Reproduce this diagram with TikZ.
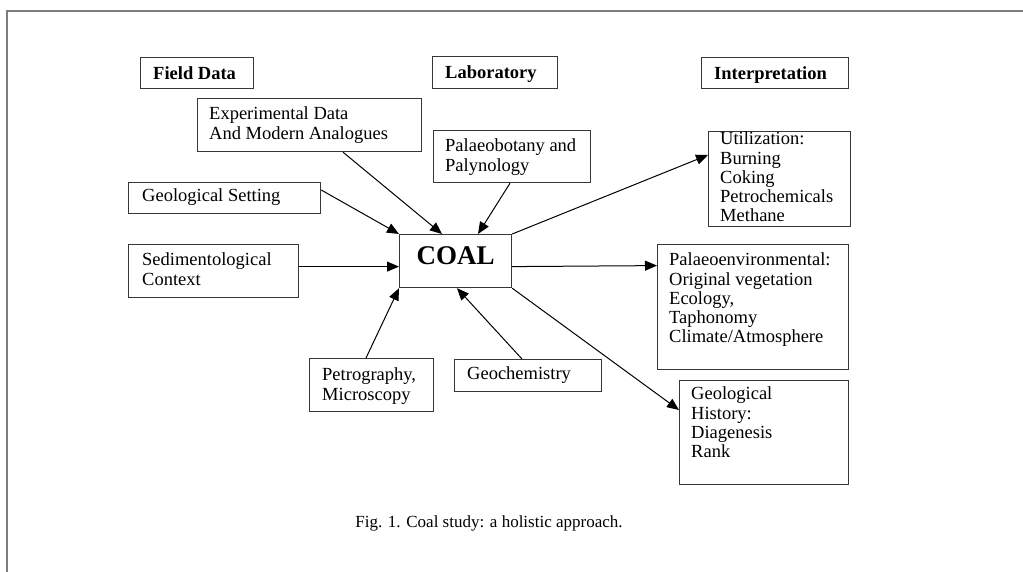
\documentclass[tikz,border=0pt]{standalone}
\usepackage{fontspec}
\setmainfont{Liberation Serif}
\usetikzlibrary{arrows.meta, positioning}
\definecolor{boxline}{RGB}{55,55,55}
\definecolor{frameline}{RGB}{125,125,125}
\tikzset{
  panel/.style={rectangle, draw=boxline, line width=1.2pt, anchor=north west,
    inner sep=0pt},
  hdrtext/.style={anchor=base west, inner sep=0pt,
    font=\fontsize{18.5}{19.3}\selectfont\bfseries},
  bodytext/.style={anchor=north west, inner sep=0pt, align=left,
    font=\fontsize{18.5}{19.3}\selectfont},
  arrow/.style={-{Triangle[length=12pt, width=10pt]}, line width=1pt, color=black}
}

\begin{document}
\begin{tikzpicture}[x=1pt, y=-1pt]
  \useasboundingbox (0,0) rectangle (1023,572);

  % Page frame
  \draw[frameline, line width=1.5pt] (7,572) -- (7,11) -- (1023,11);

  % Column headers
  \node[panel, minimum width=113pt, minimum height=31pt] (field) at (140,57) {};
  \node[hdrtext] (fieldtxt) at ([shift={(13pt,-6pt)}]field.west) {Field Data};
  \node[panel, minimum width=125pt, minimum height=32pt] (lab) at (432,56) {};
  \node[hdrtext] (labtxt) at ([shift={(13pt,-6pt)}]lab.west) {Laboratory};
  \node[panel, minimum width=147pt, minimum height=31pt] (interp) at (701,57) {};
  \node[hdrtext] (interptxt) at ([shift={(13pt,-6pt)}]interp.west) {Interpretation};

  % Centre
  \node[panel, minimum width=112pt, minimum height=53pt, text depth=12pt,
    font=\fontsize{27}{30}\selectfont\bfseries] (coal) at (399,234) {COAL};

  % Inputs
  \node[panel, minimum width=224pt, minimum height=53pt] (exp) at (197,98) {};
  \node[bodytext] (exptxt) at ([shift={(12pt,-8.7pt)}]exp.north west)
    {Experimental Data\\And Modern Analogues};
  \node[panel, minimum width=157pt, minimum height=52pt] (pbot) at (433,130) {};
  \node[bodytext] (pbottxt) at ([shift={(12pt,-8.7pt)}]pbot.north west)
    {Palaeobotany and\\Palynology};
  \node[panel, minimum width=192pt, minimum height=31pt] (geoset) at (128,182) {};
  \node[bodytext] (geosettxt) at ([shift={(14pt,-6.7pt)}]geoset.north west)
    {Geological Setting};
  \node[panel, minimum width=170pt, minimum height=53pt] (sed) at (128,244) {};
  \node[bodytext] (sedtxt) at ([shift={(14pt,-8.7pt)}]sed.north west)
    {Sedimentological\\Context};
  \node[panel, minimum width=124pt, minimum height=53pt] (petro) at (309,358) {};
  \node[bodytext] (petrotxt) at ([shift={(13pt,-9.7pt)}]petro.north west)
    {Petrography,\\Microscopy};
  \node[panel, minimum width=147pt, minimum height=32pt] (geochem) at (454,359) {};
  \node[bodytext] (geochemtxt) at ([shift={(13pt,-7.7pt)}]geochem.north west)
    {Geochemistry};

  % Outputs
  \node[panel, minimum width=142pt, minimum height=95pt] (util) at (708,131) {};
  \node[bodytext] (utiltxt) at ([shift={(12pt,-0.7pt)}]util.north west)
    {Utilization:\\Burning\\Coking\\Petrochemicals\\Methane};
  \node[panel, minimum width=191pt, minimum height=125pt] (palenv) at (657,244) {};
  \node[bodytext] (palenvtxt) at ([shift={(12pt,-8.7pt)}]palenv.north west)
    {Palaeoenvironmental:\\Original vegetation\\Ecology,\\Taphonomy\\Climate/Atmosphere};
  \node[panel, minimum width=169pt, minimum height=104pt] (geohist) at (679,380) {};
  \node[bodytext] (geohisttxt) at ([shift={(12pt,-6.7pt)}]geohist.north west)
    {Geological\\History:\\Diagenesis\\Rank};

  % Arrows into coal
  \draw[arrow] ([xshift=146pt]exp.south west) -- ([xshift=43pt]coal.north west);
  \draw[arrow] ([xshift=77pt]pbot.south west) -- ([xshift=79pt]coal.north west);
  \draw[arrow] ([yshift=-8pt]geoset.north east) -- (coal.north west);
  \draw[arrow] ([yshift=4.5pt]sed.east) -- ([yshift=-5.5pt]coal.west);
  \draw[arrow] ([xshift=57pt]petro.north west) -- (coal.south west);
  \draw[arrow] ([xshift=68pt]geochem.north west) -- ([xshift=58pt]coal.south west);

  % Arrows out of coal
  \draw[arrow] (coal.north east) -- ([yshift=-24pt]util.north west);
  \draw[arrow] ([yshift=-5.5pt]coal.east) -- ([yshift=41.5pt]palenv.west);
  \draw[arrow] (coal.south east) -- ([yshift=-30pt]geohist.north west);

  % Caption
  \node[font=\fontsize{17}{20}\selectfont] (caption) at (489,523)
    {Fig. 1. Coal study: a holistic approach.};
\end{tikzpicture}
\end{document}
